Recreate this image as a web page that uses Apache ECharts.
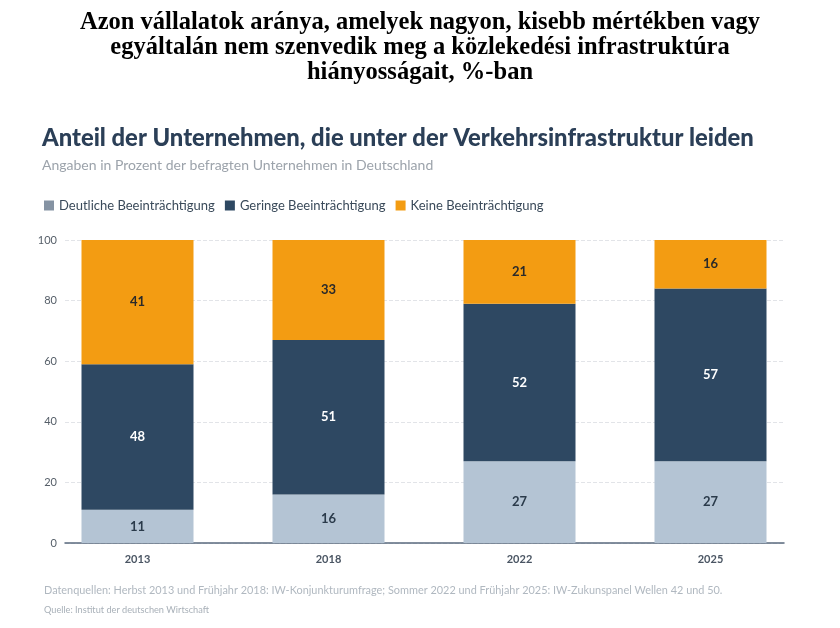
<!DOCTYPE html>
<html lang='de'>
  <head>
    <meta charset='utf-8'>
    <title>Verkehrsinfrastruktur</title>
    <style>
      html, body { margin: 0; padding: 0; background: #fff; }
      #main { width: 840px; height: 628px; }
    </style>
  </head>
  <body>
    <div id="main"></div>
    <script src="https://cdn.jsdelivr.net/npm/echarts@6/dist/echarts.min.js"></script>
    <script>
      // Daten
      var years = ['2013', '2018', '2022', '2025'];
      var deutlich = [11, 16, 27, 27];
      var gering = [48, 51, 52, 57];
      var keine = [41, 33, 21, 16];
      var seriesNames = ['Deutliche Beeinträchtigung', 'Geringe Beeinträchtigung', 'Keine Beeinträchtigung'];
      var yTicks = [0, 20, 40, 60, 80, 100];

      var cLight = '#b4c4d4', cDark = '#2e4862', cOrange = '#f39c12';
      var font = 'Lato';

      var myChart = echarts.init(document.getElementById('main'));

      function barSeries(name, data, color, labelColor) {
        return {
          name: name,
          type: 'bar',
          stack: 'total',
          xAxisIndex: 1,
          yAxisIndex: 1,
          barWidth: 112,
          data: data,
          itemStyle: { color: color },
          label: {
            show: true,
            position: 'inside',
            color: labelColor,
            fontFamily: font,
            fontSize: 13,
            fontWeight: 'bold'
          },
          emphasis: { disabled: true }
        };
      }

      var option = {
        animation: false,
        title: [
          {
            text: 'Azon vállalatok aránya, amelyek nagyon, kisebb mértékben vagy\negyáltalán nem szenvedik meg a közlekedési infrastruktúra\nhiányosságait, %-ban',
            left: 'center',
            top: 10,
            padding: 0,
            textStyle: {
              fontFamily: 'Liberation Serif',
              fontWeight: 'bold',
              fontSize: 24.5,
              lineHeight: 25,
              color: '#000'
            }
          },
          {
            text: 'Anteil der Unternehmen, die unter der Verkehrsinfrastruktur leiden',
            left: 42,
            top: 126,
            padding: 0,
            textStyle: { fontFamily: font, fontWeight: 900, fontSize: 23.8, color: '#2b3f57' }
          },
          {
            text: 'Angaben in Prozent der befragten Unternehmen in Deutschland',
            left: 42,
            top: 158,
            padding: 0,
            textStyle: { fontFamily: font, fontWeight: 'normal', fontSize: 14, color: '#9ca3ab' }
          },
          {
            text: 'Datenquellen: Herbst 2013 und Frühjahr 2018: IW-Konjunkturumfrage; Sommer 2022 und Frühjahr 2025: IW-Zukunspanel Wellen 42 und 50.',
            left: 44,
            top: 585,
            padding: 0,
            textStyle: { fontFamily: font, fontWeight: 'normal', fontSize: 10.9, color: '#b0b8c0' }
          },
          {
            text: 'Quelle: Institut der deutschen Wirtschaft',
            left: 44,
            top: 606,
            padding: 0,
            textStyle: { fontFamily: font, fontWeight: 'normal', fontSize: 9.2, color: '#a8b0b8' }
          }
        ],
        legend: {
          left: 44,
          top: 199,
          padding: 0,
          itemWidth: 10,
          itemHeight: 10,
          itemGap: 10,
          icon: 'rect',
          selectedMode: false,
          textStyle: { fontFamily: font, fontSize: 13, color: '#3a4a5a' },
          data: [
            { name: seriesNames[0], itemStyle: { color: '#8593a3' } },
            { name: seriesNames[1] },
            { name: seriesNames[2] }
          ]
        },
        grid: [
          { left: 65, right: 56, top: 240, bottom: 85 },
          { left: 42, right: 34, top: 240, bottom: 85 }
        ],
        xAxis: [
          {
            type: 'category',
            gridIndex: 0,
            data: years,
            axisLine: { lineStyle: { color: '#5a6a7e', width: 1.5 } },
            axisTick: { show: false },
            axisLabel: { show: false }
          },
          {
            type: 'category',
            gridIndex: 1,
            data: years,
            axisLine: { show: false },
            axisTick: { show: false },
            axisLabel: { fontFamily: font, fontSize: 11, fontWeight: 'bold', color: '#4a5563', margin: 11 }
          }
        ],
        yAxis: [
          {
            type: 'value',
            gridIndex: 0,
            min: yTicks[0],
            max: yTicks[yTicks.length - 1],
            interval: 20,
            axisLabel: { fontFamily: font, fontSize: 11, color: '#555e68', margin: 8 },
            splitLine: { lineStyle: { color: '#e2e4e8', type: 'dashed' } }
          },
          {
            type: 'value',
            gridIndex: 1,
            min: 0,
            max: 100,
            show: false,
            splitLine: { show: false }
          }
        ],
        series: [
          barSeries(seriesNames[0], deutlich, cLight, '#2a3a4a'),
          barSeries(seriesNames[1], gering, cDark, '#ffffff'),
          barSeries(seriesNames[2], keine, cOrange, '#2a2a2a')
        ]
      };

      myChart.setOption(option);
    </script>
  </body>
</html>
